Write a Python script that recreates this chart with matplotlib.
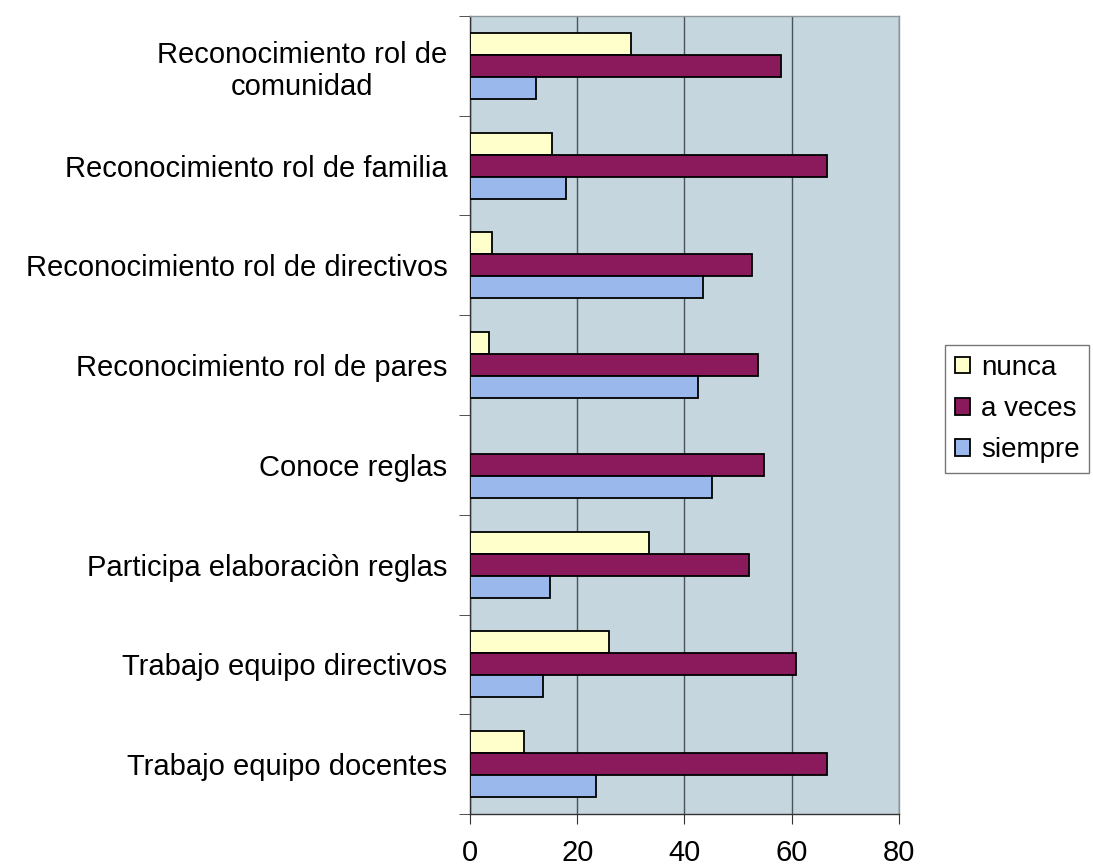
import numpy as np
import matplotlib
matplotlib.use("Agg")
import matplotlib.pyplot as plt
from matplotlib.ticker import FixedLocator

plt.rcParams['font.family'] = ['Liberation Sans', 'DejaVu Sans']

# categories listed bottom to top
categories = ["Trabajo equipo docentes", "Trabajo equipo directivos",
              "Participa elaboraciòn reglas", "Conoce reglas",
              "Reconocimiento rol de pares", "Reconocimiento rol de directivos",
              "Reconocimiento rol de familia", "Reconocimiento rol de\ncomunidad"]
nunca = [10.0, 25.9, 33.4, 0.0, 3.5, 4.0, 15.2, 30.0]
a_veces = [66.6, 60.8, 52.1, 54.8, 53.8, 52.6, 66.7, 58.0]
siempre = [23.4, 13.5, 14.9, 45.1, 42.6, 43.5, 17.9, 12.3]

fig = plt.figure(figsize=(10.93, 8.68), dpi=100)
ax = fig.add_axes([0.4303, 0.0622, 0.3919, 0.9194])
ax.set_facecolor('#c6d6de')

y = np.arange(len(categories))
h = 0.22
edge_n = ['black' if v > 0 else 'none' for v in nunca]
ax.barh(y + h, nunca, height=h, color='#ffffcc', edgecolor=edge_n, lw=1.3, label='nunca', zorder=3)
ax.barh(y, a_veces, height=h, color='#8a1a5c', edgecolor='black', lw=1.3, label='a veces', zorder=3)
ax.barh(y - h, siempre, height=h, color='#9ab8ec', edgecolor='black', lw=1.3, label='siempre', zorder=3)

ax.set_xlim(0, 80)
ax.set_ylim(-0.5, len(categories) - 0.5)
ax.set_xticks([0, 20, 40, 60, 80])
ax.xaxis.grid(True, color='#4a5358', lw=1.0, zorder=1)
ax.tick_params(axis='x', labelsize=21, length=7, pad=11, color='#333333')

ax.set_yticks(y)
ax.set_yticklabels(categories, fontsize=21)
for lab in ax.get_yticklabels():
    lab.set_multialignment('center')
ax.yaxis.set_minor_locator(FixedLocator(np.arange(-0.5, len(categories), 1.0)))
ax.tick_params(axis='y', which='major', length=0, pad=16.5)
ax.tick_params(axis='y', which='minor', length=8, color='#333333')

for s in ['left', 'bottom']:
    ax.spines[s].set_color('#333333')
    ax.spines[s].set_linewidth(1.0)
for s in ['top', 'right']:
    ax.spines[s].set_color('#8a9499')
    ax.spines[s].set_linewidth(1.0)

leg = fig.legend(loc='upper left', bbox_to_anchor=(945 / 1093, 1 - 345 / 868),
                 fontsize=20, frameon=True, fancybox=False, edgecolor='#555555',
                 handlelength=0.55, handleheight=0.55, handletextpad=0.4,
                 borderpad=0.35, labelspacing=0.55, borderaxespad=0)
leg.get_frame().set_linewidth(1.0)

fig.savefig('out.png', dpi=100, facecolor='white')
